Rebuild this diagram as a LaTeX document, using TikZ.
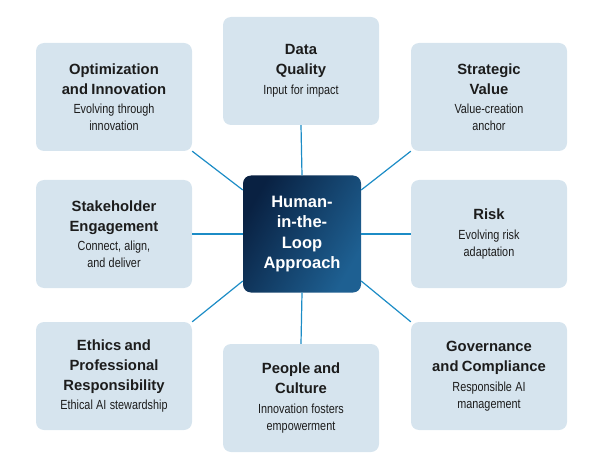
\documentclass[tikz,border=0pt]{standalone}
\usepackage{fontspec}
\setmainfont{Liberation Sans}
\newfontfamily\narrowfont[FakeStretch=0.82]{Liberation Sans}

\definecolor{boxblue}{RGB}{214,228,238}
\definecolor{linkblue}{RGB}{28,140,198}
\definecolor{navydark}{RGB}{9,33,66}
\definecolor{navylight}{RGB}{30,96,146}
\definecolor{textgray}{RGB}{28,28,28}

\newcommand{\titletext}[1]{{\bfseries\fontsize{14.8}{20}\selectfont #1\par}}
\newcommand{\subtext}[1]{{\vspace{2.5pt}\narrowfont\fontsize{13.2}{17}\selectfont #1\par}}

\tikzset{
    topic/.style={fill=boxblue, rounded corners=8pt, minimum width=156pt,
        minimum height=108pt, text width=152pt, align=center,
        text=textgray, inner sep=0pt},
    hub/.style={rounded corners=8pt, minimum width=118pt, minimum height=117pt,
        align=center, text=white, inner sep=0pt,
        left color=navydark, right color=navylight, shading angle=60,
        font=\bfseries\fontsize{16.5}{20.5}\selectfont},
    link/.style={linkblue, line width=1.2pt}
}

\begin{document}
\begin{tikzpicture}[x=1pt,y=1pt]

    % Fix the page size
    \useasboundingbox (0,0) rectangle (602,472);

    % Central approach
    \node[hub] (hitl) at (302,238) {Human-\\in-the-\\Loop\\Approach};

    % Surrounding topics
    \node[topic] (optim) at (114,375) {\titletext{Optimization\\and Innovation}\subtext{Evolving through\\innovation}};
    \node[topic] (data) at (301,401) {\titletext{Data\\Quality}\subtext{Input for impact}};
    \node[topic] (strat) at (489,375) {\titletext{Strategic\\Value}\subtext{Value-creation\\anchor}};
    \node[topic] (stake) at (114,238) {\titletext{Stakeholder\\Engagement}\subtext{Connect, align,\\and deliver}};
    \node[topic] (risk) at (489,238) {\titletext{Risk}\subtext{Evolving risk\\adaptation}};
    \node[topic] (ethics) at (114,96) {\titletext{Ethics and\\Professional\\Responsibility}\subtext{Ethical AI stewardship}};
    \node[topic] (people) at (301,74) {\titletext{People and\\Culture}\subtext{Innovation fosters\\empowerment}};
    \node[topic] (gov) at (489,96) {\titletext{Governance\\and Compliance}\subtext{Responsible AI\\management}};

    % Straight links
    \draw[link] (data.south) -- (hitl.north);
    \draw[link] (people.north) -- (hitl.south);
    \draw[link] (stake.east) -- (hitl.west);
    \draw[link] (risk.west) -- (hitl.east);

    % Diagonal links
    \draw[link] (optim.south east) -- ([yshift=44pt]hitl.west);
    \draw[link] (strat.south west) -- ([yshift=44pt]hitl.east);
    \draw[link] (ethics.north east) -- ([yshift=-47pt]hitl.west);
    \draw[link] (gov.north west) -- ([yshift=-47pt]hitl.east);

\end{tikzpicture}
\end{document}
